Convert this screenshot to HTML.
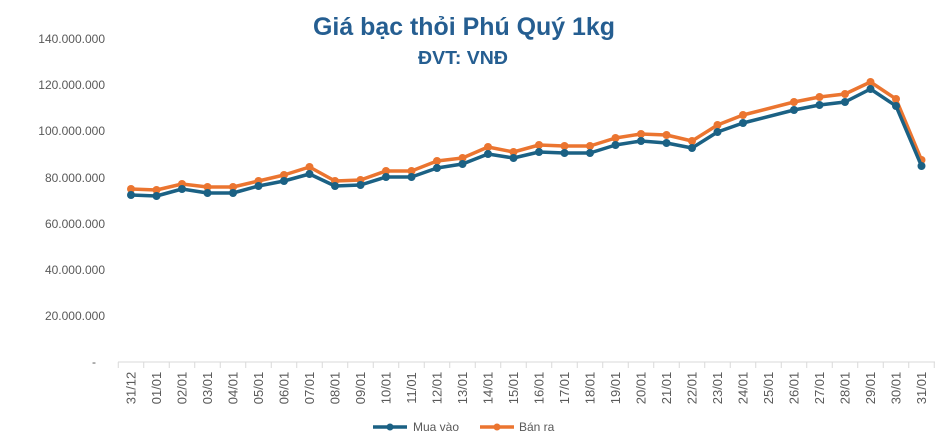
<!DOCTYPE html>
<html><head><meta charset="utf-8"><style>html,body{margin:0;padding:0;background:#fff}svg{display:block}</style></head>
<body>
<svg width="938" height="442" xmlns="http://www.w3.org/2000/svg" font-family="'Liberation Sans', sans-serif">
<text x="464" y="35" text-anchor="middle" font-size="25" font-weight="bold" fill="#255E91" textLength="302" lengthAdjust="spacingAndGlyphs">Giá bạc thỏi Phú Quý 1kg</text>
<text x="463" y="64" text-anchor="middle" font-size="18" font-weight="bold" fill="#255E91" textLength="90" lengthAdjust="spacingAndGlyphs">ĐVT: VNĐ</text>
<g font-size="12" fill="#595959" text-anchor="end">
<text x="105" y="43">140.000.000</text>
<text x="105" y="89">120.000.000</text>
<text x="105" y="135">100.000.000</text>
<text x="105" y="182">80.000.000</text>
<text x="105" y="228">60.000.000</text>
<text x="105" y="274">40.000.000</text>
<text x="105" y="320">20.000.000</text>
<text x="96" y="366">-</text>
</g>
<line x1="118" y1="362" x2="935" y2="362" stroke="#d9d9d9" stroke-width="1"/>
<g id="ticks" stroke="#d9d9d9"></g>
<g id="labels" font-size="13" fill="#595959"></g>
<g id="series"></g>
<g font-size="12" fill="#595959">
<line x1="373" y1="427" x2="407" y2="427" stroke="#1B6184" stroke-width="3.5"/>
<circle cx="390" cy="427" r="3.5" fill="#1B6184"/>
<text x="413" y="431">Mua vào</text>
<line x1="480" y1="427" x2="514" y2="427" stroke="#EB7530" stroke-width="3.5"/>
<circle cx="497" cy="427" r="3.5" fill="#EB7530"/>
<text x="519" y="431">Bán ra</text>
</g>
</svg>
<script>
var ns="http://www.w3.org/2000/svg";
var cats=["31/12"];for(var d=1;d<=31;d++)cats.push((d<10?"0":"")+d+"/01");
var O=[189,190,184,187,187,181,175,167,181,180,171,171,161,158,147,152,145,146,146,138,134,135,141,125,115,null,102,97,94,82,99,160];
var B=[195,196,189,193,193,186,181,174,186,185,177,177,168,164,154,158,152,153,153,145,141,143,148,132,123,null,110,105,102,89,106,166];
var sp=25.5,x0=131;
var t=document.getElementById("ticks"),l=document.getElementById("labels"),s=document.getElementById("series");
for(var i=0;i<=32;i++){var ln=document.createElementNS(ns,"line");var x=118.25+sp*i;ln.setAttribute("x1",x);ln.setAttribute("x2",x);ln.setAttribute("y1",362);ln.setAttribute("y2",368);t.appendChild(ln);}
for(var i=0;i<32;i++){var tx=document.createElementNS(ns,"text");var x=x0+sp*i+4.5;tx.setAttribute("transform","translate("+x+",388) rotate(-90)");tx.setAttribute("text-anchor","middle");tx.textContent=cats[i];l.appendChild(tx);}
function draw(Y,c){var pts=[];for(var i=0;i<32;i++)if(Y[i]!==null)pts.push((x0+sp*i)+","+Y[i]);
var p=document.createElementNS(ns,"polyline");p.setAttribute("points",pts.join(" "));p.setAttribute("fill","none");p.setAttribute("stroke",c);p.setAttribute("stroke-width","3.5");p.setAttribute("stroke-linejoin","round");s.appendChild(p);
for(var i=0;i<32;i++)if(Y[i]!==null){var ci=document.createElementNS(ns,"circle");ci.setAttribute("cx",x0+sp*i);ci.setAttribute("cy",Y[i]);ci.setAttribute("r","4");ci.setAttribute("fill",c);s.appendChild(ci);}}
draw(O,"#EB7530");draw(B,"#1B6184");
</script>
</body></html>
